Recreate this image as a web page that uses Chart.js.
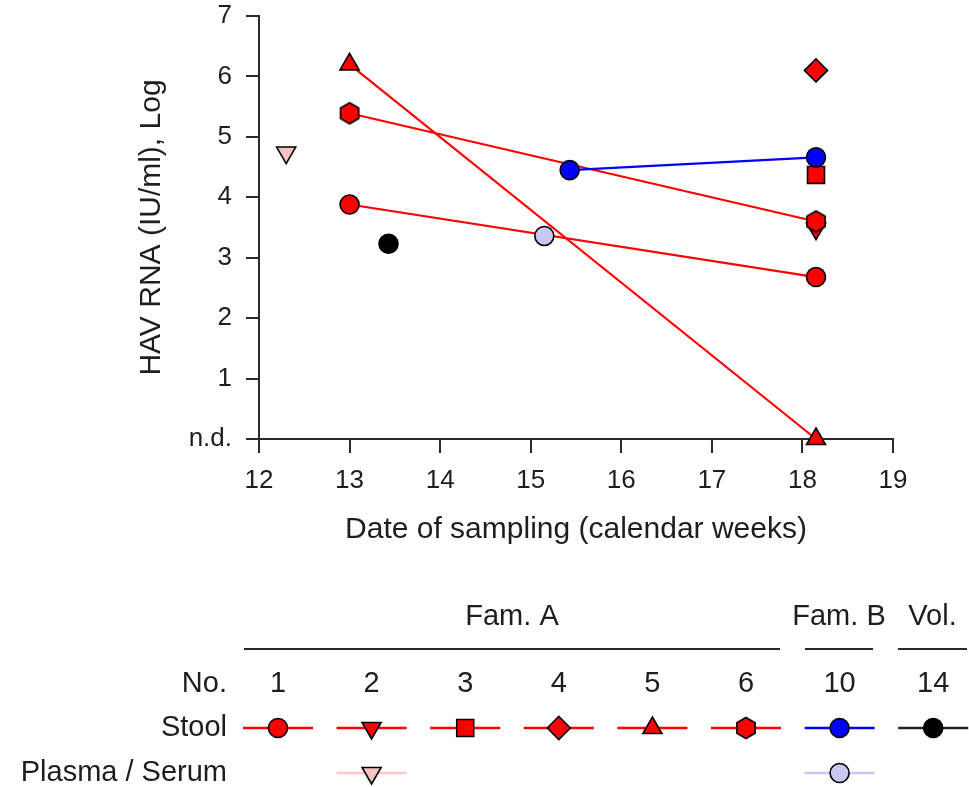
<!DOCTYPE html>
<html>
<head>
<meta charset="utf-8">
<script src="https://cdn.jsdelivr.net/npm/chart.js@4"></script>
<style>
    html, body { margin: 0; padding: 0; background: #fff; }
</style>
</head>
<body>
<canvas id="grafikHAV" width="969" height="787"></canvas>
<script>
// Tick labels
const xTicks = [12, 13, 14, 15, 16, 17, 18, 19];
const yTickLabels = ["n.d.", "1", "2", "3", "4", "5", "6", "7"];

// Legend table
const groupNames = ["Fam. A", "Fam. B", "Vol."];
const patientNos = ["1", "2", "3", "4", "5", "6", "10", "14"];
const rowNames = ["No.", "Stool", "Plasma / Serum"];

// Measurements (calendar week, log IU/ml; 0 = n.d.)
const stool1Week = [13, 18.15];
const stool1Log = [3.88, 2.68];
const stool2Week = [18.15];
const stool2Log = [3.48];
const plasma2Week = [12.3];
const plasma2Log = [4.74];
const stool3Week = [18.15];
const stool3Log = [4.37];
const stool4Week = [18.15];
const stool4Log = [6.1];
const stool5Week = [13, 18.15];
const stool5Log = [6.2, 0];
const stool6Week = [13, 18.15];
const stool6Log = [5.39, 3.6];
const stool10Week = [15.43, 18.15];
const stool10Log = [4.45, 4.66];
const plasma10Week = [15.15];
const plasma10Log = [3.36];
const stool14Week = [13.43];
const stool14Log = [3.23];

const FONT = "'Liberation Sans', Arial, Helvetica, sans-serif";
const TEXT = "#1e1e1e";
const AXIS = "#2a2a2a";

// Hexagon marker (not built into Chart.js)
function buatHeksagon(fill) {
    const c = document.createElement("canvas");
    c.width = 26;
    c.height = 26;
    const g = c.getContext("2d");
    g.beginPath();
    for (let i = 0; i < 6; i++) {
        const a = -Math.PI / 2 + i * Math.PI / 3;
        g.lineTo(13 + 10.5 * Math.cos(a), 13 + 10.5 * Math.sin(a));
    }
    g.closePath();
    g.fillStyle = fill;
    g.fill();
    g.lineWidth = 1.6;
    g.strokeStyle = "#000";
    g.stroke();
    return c;
}

// Marker styles per series
const gaya = {
    stool1:   { style: "circle",   rot: 0,   r: 9.5,  fill: "#ff0000", line: "#ff0000" },
    stool2:   { style: "triangle", rot: 180, r: 11,   fill: "#ff0000", line: "#ff0000" },
    plasma2:  { style: "triangle", rot: 180, r: 11,   fill: "#f5c3c3", line: "#ffc8c8" },
    stool3:   { style: "rect",     rot: 0,   r: 12,   fill: "#ff0000", line: "#ff0000" },
    stool4:   { style: "rectRot",  rot: 0,   r: 11.5, fill: "#ff0000", line: "#ff0000" },
    stool5:   { style: "triangle", rot: 0,   r: 11,   fill: "#ff0000", line: "#ff0000" },
    stool6:   { style: buatHeksagon("#ff0000"), rot: 0, r: 10, fill: "#ff0000", line: "#ff0000" },
    stool10:  { style: "circle",   rot: 0,   r: 9.5,  fill: "#0000ff", line: "#0000ff" },
    plasma10: { style: "circle",   rot: 0,   r: 9.5,  fill: "#c8c8f2", line: "#c8c8f2" },
    stool14:  { style: "circle",   rot: 0,   r: 9.5,  fill: "#000000", line: "#222222" }
};

function seri(weeks, logs, g) {
    return {
        data: weeks.map((w, i) => ({ x: w, y: logs[i] })),
        showLine: weeks.length > 1,
        borderColor: g.line,
        borderWidth: 2.2,
        pointStyle: g.style,
        pointRotation: g.rot,
        pointRadius: g.r,
        pointHoverRadius: g.r,
        pointBackgroundColor: g.fill,
        pointBorderColor: "#000",
        pointBorderWidth: 1.6,
        clip: false
    };
}

// first dataset is drawn on top
const datasets = [
    seri(plasma10Week, plasma10Log, gaya.plasma10),
    seri(stool10Week, stool10Log, gaya.stool10),
    seri(stool14Week, stool14Log, gaya.stool14),
    seri(stool6Week, stool6Log, gaya.stool6),
    seri(stool5Week, stool5Log, gaya.stool5),
    seri(stool4Week, stool4Log, gaya.stool4),
    seri(stool3Week, stool3Log, gaya.stool3),
    seri(stool2Week, stool2Log, gaya.stool2),
    seri(plasma2Week, plasma2Log, gaya.plasma2),
    seri(stool1Week, stool1Log, gaya.stool1)
];

// Legend columns: stool / plasma style for each patient no.
const kolomStool = [gaya.stool1, gaya.stool2, gaya.stool3, gaya.stool4, gaya.stool5, gaya.stool6, gaya.stool10, gaya.stool14];
const kolomPlasma = [null, gaya.plasma2, null, null, null, null, gaya.plasma10, null];

function gambarPenanda(ctx, g, x, y) {
    ctx.save();
    ctx.strokeStyle = g.line;
    ctx.lineWidth = 2.5;
    ctx.beginPath();
    ctx.moveTo(x - 35, y);
    ctx.lineTo(x + 35, y);
    ctx.stroke();
    ctx.fillStyle = g.fill;
    ctx.strokeStyle = "#000";
    ctx.lineWidth = 1.6;
    Chart.helpers.drawPoint(ctx, { pointStyle: g.style, rotation: g.rot, radius: g.r, borderWidth: 1.6 }, x, y);
    ctx.restore();
}

const legendaTabel = {
    id: "legendaTabel",
    afterDraw(chart) {
        const ctx = chart.ctx;
        const colX = patientNos.map((_, i) => 278 + i * 93.6);
        ctx.save();
        ctx.fillStyle = TEXT;
        ctx.font = "29px " + FONT;
        ctx.textBaseline = "middle";

        // group headers with rules
        const spans = [[244, 780], [805, 873], [898, 967]];
        ctx.textAlign = "center";
        groupNames.forEach((nama, i) => {
            const [a, b] = spans[i];
            ctx.fillText(nama, (a + b) / 2, 617);
            ctx.strokeStyle = AXIS;
            ctx.lineWidth = 2;
            ctx.beginPath();
            ctx.moveTo(a, 649);
            ctx.lineTo(b, 649);
            ctx.stroke();
        });

        // row labels
        const rowY = [684, 728, 773];
        ctx.textAlign = "right";
        rowNames.forEach((nama, i) => ctx.fillText(nama, 227, rowY[i]));

        // patient numbers
        ctx.textAlign = "center";
        patientNos.forEach((no, i) => ctx.fillText(no, colX[i], rowY[0]));
        ctx.restore();

        kolomStool.forEach((g, i) => gambarPenanda(ctx, g, colX[i], rowY[1]));
        kolomPlasma.forEach((g, i) => { if (g) gambarPenanda(ctx, g, colX[i], rowY[2]); });
    }
};

function nolkanPadding(s) {
    s.paddingTop = 0;
    s.paddingBottom = 0;
    s.paddingLeft = 0;
    s.paddingRight = 0;
}

const chart = new Chart(document.getElementById("grafikHAV").getContext("2d"), {
    type: "scatter",
    data: { datasets: datasets },
    plugins: [legendaTabel],
    options: {
        responsive: false,
        animation: false,
        devicePixelRatio: 1,
        layout: { autoPadding: false, padding: { left: 0, right: 76, top: 16, bottom: 0 } },
        plugins: { legend: { display: false }, tooltip: { enabled: false } },
        scales: {
            x: {
                type: "linear",
                min: xTicks[0],
                max: xTicks[xTicks.length - 1],
                afterFit: s => { s.height = 348; nolkanPadding(s); },
                afterBuildTicks: s => { s.ticks = xTicks.map(v => ({ value: v })); },
                ticks: { color: TEXT, font: { family: FONT, size: 26 }, padding: 12, maxRotation: 0 },
                grid: { drawOnChartArea: false, drawTicks: true, tickLength: 14, color: AXIS, lineWidth: 2 },
                border: { display: true, color: AXIS, width: 2 },
                title: {
                    display: true,
                    text: "Date of sampling (calendar weeks)",
                    color: TEXT,
                    font: { family: FONT, size: 30 },
                    padding: { top: 0, bottom: 239 }
                }
            },
            y: {
                type: "linear",
                min: 0,
                max: yTickLabels.length - 1,
                afterFit: s => { s.width = 259; nolkanPadding(s); },
                ticks: {
                    stepSize: 1,
                    color: TEXT,
                    font: { family: FONT, size: 26 },
                    padding: 14,
                    callback: v => yTickLabels[v]
                },
                grid: { drawOnChartArea: false, drawTicks: true, tickLength: 13, color: AXIS, lineWidth: 2 },
                border: { display: true, color: AXIS, width: 2 },
                title: {
                    display: true,
                    text: "HAV RNA (IU/ml), Log",
                    color: TEXT,
                    font: { family: FONT, size: 30 },
                    padding: { top: 134, bottom: 0 }
                }
            }
        }
    }
});
</script>
</body>
</html>
